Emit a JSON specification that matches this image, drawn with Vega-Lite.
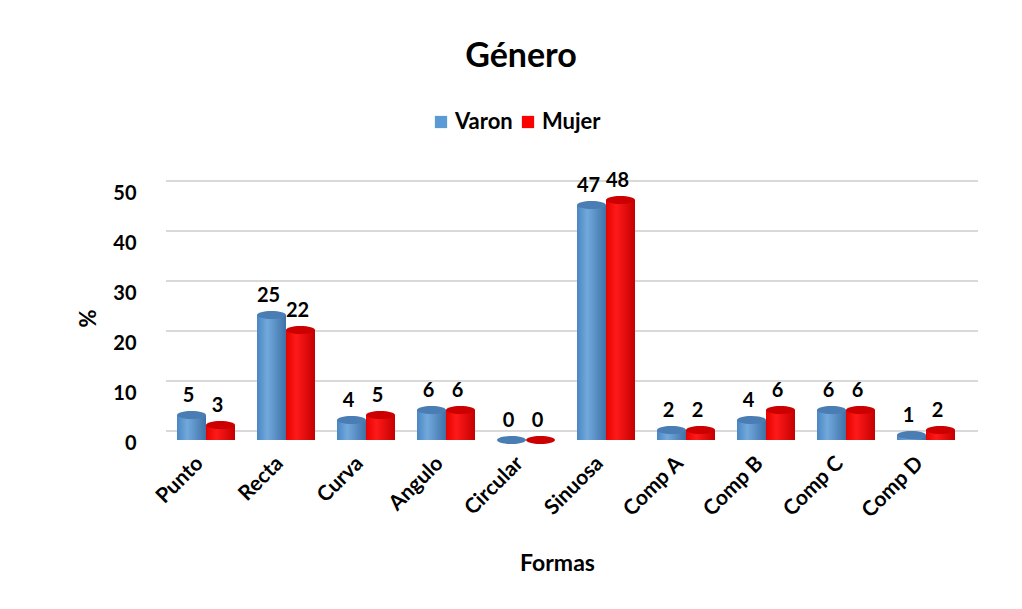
{
  "$schema": "https://vega.github.io/schema/vega-lite/v6.json",
  "width": 800,
  "height": 250,
  "autosize": {"type": "none"},
  "padding": {"left": 166, "top": 190, "right": 56, "bottom": 169},
  "background": "white",
  "config": {
    "font": "Lato",
    "view": {"stroke": null}
  },
  "title": {
    "text": "Género",
    "fontSize": 34,
    "fontWeight": "bold",
    "color": "#000000",
    "anchor": "middle",
    "dx": -45,
    "offset": 37
  },
  "datasets": {
    "main": [
      {"forma": "Punto", "genero": "Varon", "pct": 5},
      {"forma": "Punto", "genero": "Mujer", "pct": 3},
      {"forma": "Recta", "genero": "Varon", "pct": 25},
      {"forma": "Recta", "genero": "Mujer", "pct": 22},
      {"forma": "Curva", "genero": "Varon", "pct": 4},
      {"forma": "Curva", "genero": "Mujer", "pct": 5},
      {"forma": "Angulo", "genero": "Varon", "pct": 6},
      {"forma": "Angulo", "genero": "Mujer", "pct": 6},
      {"forma": "Circular", "genero": "Varon", "pct": 0},
      {"forma": "Circular", "genero": "Mujer", "pct": 0},
      {"forma": "Sinuosa", "genero": "Varon", "pct": 47},
      {"forma": "Sinuosa", "genero": "Mujer", "pct": 48},
      {"forma": "Comp A", "genero": "Varon", "pct": 2},
      {"forma": "Comp A", "genero": "Mujer", "pct": 2},
      {"forma": "Comp B", "genero": "Varon", "pct": 4},
      {"forma": "Comp B", "genero": "Mujer", "pct": 6},
      {"forma": "Comp C", "genero": "Varon", "pct": 6},
      {"forma": "Comp C", "genero": "Mujer", "pct": 6},
      {"forma": "Comp D", "genero": "Varon", "pct": 1},
      {"forma": "Comp D", "genero": "Mujer", "pct": 2}
    ],
    "grid": [{"v": 0}, {"v": 10}, {"v": 20}, {"v": 30}, {"v": 40}, {"v": 50}]
  },
  "layer": [
    {
      "data": {"name": "grid"},
      "mark": {"type": "rule", "color": "#d9d9d9", "strokeWidth": 2, "yOffset": -9, "xOffset": 12},
      "encoding": {
        "y": {"field": "v", "type": "quantitative", "scale": {"domain": [0, 50]}}
      }
    },
    {
      "data": {"name": "main"},
      "mark": {"type": "bar"},
      "encoding": {
        "x": {
          "field": "forma", "type": "nominal", "sort": null,
          "scale": {"paddingInner": 0.275, "paddingOuter": 0.1375},
          "axis": {
            "title": "Formas", "titleFontSize": 23, "titleFontWeight": "bold", "titleColor": "#000",
            "titleX": 391, "titleY": 123, "titleBaseline": "middle",
            "labelAngle": -45, "labelAlign": "right", "labelBaseline": "middle",
            "labelFontSize": 21, "labelFontWeight": "bold", "labelColor": "#000",
            "labelPadding": 20, "labelOffset": -6, "ticks": false, "domain": false, "grid": false
          }
        },
        "xOffset": {"field": "genero", "type": "nominal", "sort": ["Varon", "Mujer"], "scale": {"paddingInner": 0}},
        "y": {
          "field": "pct", "type": "quantitative",
          "scale": {"domain": [0, 50]},
          "axis": {
            "title": "%", "titleFontSize": 22, "titleFontWeight": "bold", "titleColor": "#000",
            "titleX": -78, "titleY": 128, "titleAngle": -90, "titleAlign": "center", "titleBaseline": "middle",
            "values": [0, 10, 20, 30, 40, 50],
            "labelFontSize": 20, "labelFontWeight": "bold", "labelColor": "#000",
            "labelPadding": 30, "labelOffset": 3, "ticks": false, "domain": false, "grid": false
          }
        },
        "color": {
          "field": "genero", "type": "nominal", "sort": ["Varon", "Mujer"],
          "scale": {"domain": ["Varon", "Mujer"], "range": ["#5B9BD5", "#FF0000"]},
          "legend": {
            "title": null, "orient": "none", "direction": "horizontal",
            "legendX": 264, "legendY": -79, "padding": 0,
            "symbolType": "square", "symbolSize": 150, "symbolStrokeWidth": 0,
            "labelFontSize": 22, "labelFontWeight": "bold", "labelColor": "#000",
            "columnPadding": 4, "labelOffset": 3
          }
        }
      }
    },
    {
      "data": {"name": "main"},
      "transform": [{"filter": "datum.genero === 'Varon'"}],
      "mark": {
        "type": "bar",
        "color": {
          "gradient": "linear", "x1": 0, "x2": 1, "y1": 0, "y2": 0,
          "stops": [
            {"offset": 0, "color": "#4a86c2"},
            {"offset": 0.35, "color": "#72a9dd"},
            {"offset": 1, "color": "#3f72a6"}
          ]
        }
      },
      "encoding": {
        "x": {"field": "forma", "type": "nominal", "sort": null},
        "xOffset": {"field": "genero", "type": "nominal", "sort": ["Varon", "Mujer"]},
        "y": {"field": "pct", "type": "quantitative"}
      }
    },
    {
      "data": {"name": "main"},
      "transform": [{"filter": "datum.genero === 'Mujer'"}],
      "mark": {
        "type": "bar",
        "color": {
          "gradient": "linear", "x1": 0, "x2": 1, "y1": 0, "y2": 0,
          "stops": [
            {"offset": 0, "color": "#e60000"},
            {"offset": 0.35, "color": "#ff1a1a"},
            {"offset": 1, "color": "#c40000"}
          ]
        }
      },
      "encoding": {
        "x": {"field": "forma", "type": "nominal", "sort": null},
        "xOffset": {"field": "genero", "type": "nominal", "sort": ["Varon", "Mujer"]},
        "y": {"field": "pct", "type": "quantitative"}
      }
    },
    {
      "data": {"name": "main"},
      "mark": {
        "type": "point", "filled": true, "opacity": 1, "size": 841, "strokeWidth": 0,
        "shape": "M-1,0A1,0.28,0,1,0,1,0A1,0.28,0,1,0,-1,0Z"
      },
      "encoding": {
        "x": {"field": "forma", "type": "nominal", "sort": null},
        "xOffset": {"field": "genero", "type": "nominal", "sort": ["Varon", "Mujer"]},
        "y": {"field": "pct", "type": "quantitative"},
        "fill": {
          "field": "genero", "type": "nominal",
          "scale": {"domain": ["Varon", "Mujer"], "range": ["#4a7db3", "#cc0000"]},
          "legend": null
        }
      }
    },
    {
      "data": {"name": "main"},
      "mark": {"type": "text", "fontSize": 20, "fontWeight": "bold", "color": "#000", "baseline": "bottom", "dy": -9, "dx": -3},
      "encoding": {
        "x": {"field": "forma", "type": "nominal", "sort": null},
        "xOffset": {"field": "genero", "type": "nominal", "sort": ["Varon", "Mujer"]},
        "y": {"field": "pct", "type": "quantitative"},
        "text": {"field": "pct", "type": "quantitative", "format": "d"}
      }
    }
  ]
}
